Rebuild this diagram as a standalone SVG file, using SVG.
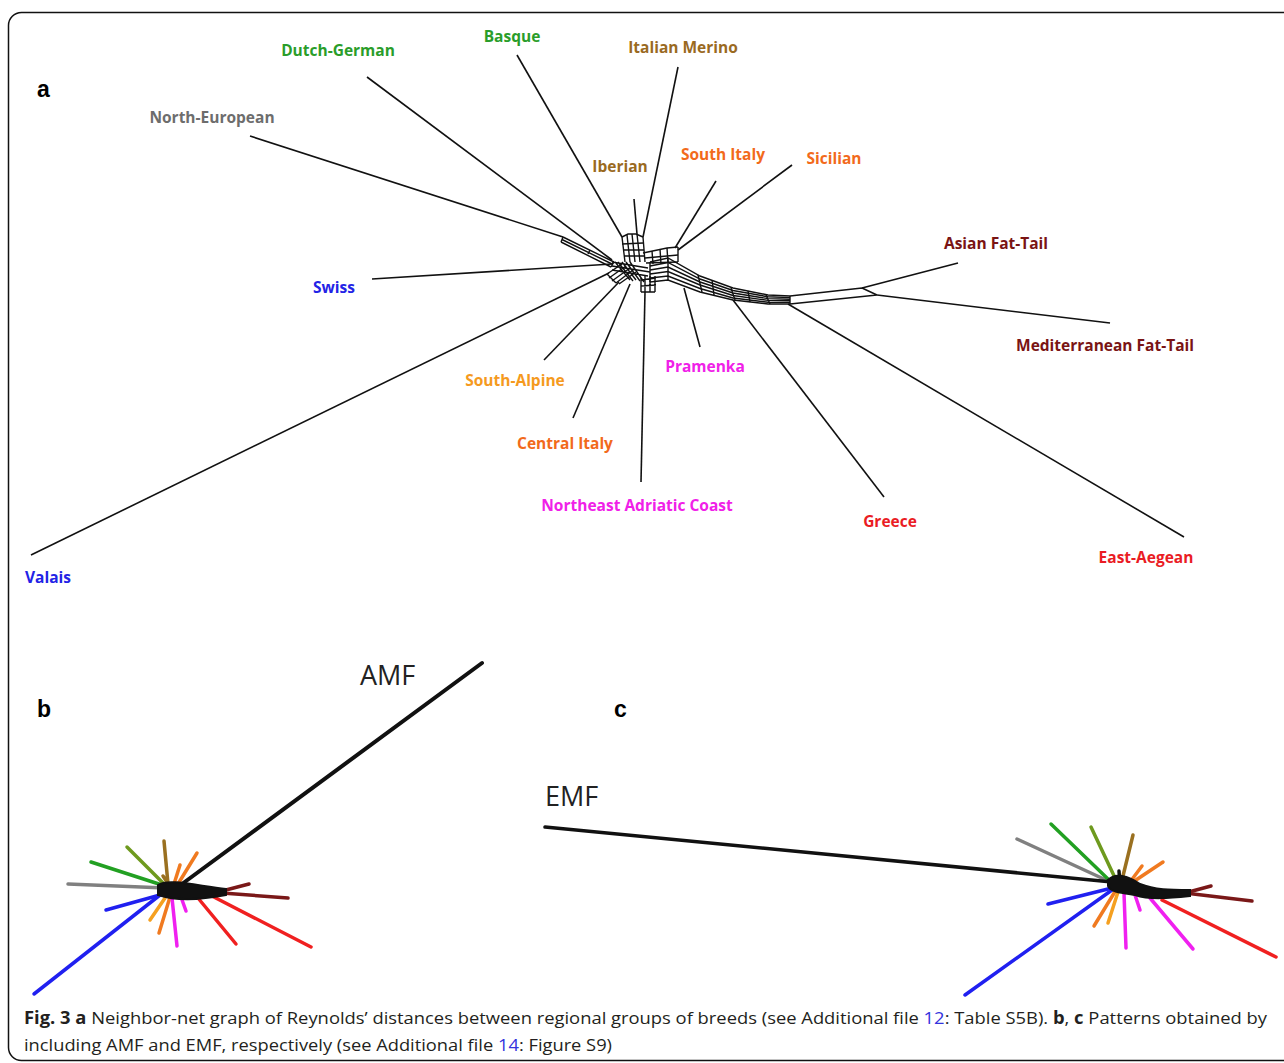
<svg xmlns="http://www.w3.org/2000/svg" width="1284" height="1063" viewBox="0 0 1284 1063">
<style>
.lbl{font-family:"Open Sans","Noto Sans",sans-serif;font-weight:700;font-size:15.5px;text-anchor:middle}
.pl{font-family:"Liberation Sans",Arial,sans-serif;font-weight:bold;font-size:23px}
.big{font-family:"Open Sans","Noto Sans",sans-serif;font-size:27px;fill:#222}
.cap{font-family:"Open Sans","Noto Sans",sans-serif;font-size:17px;fill:#231f20}
.leaf{stroke:#111;stroke-width:1.6;fill:none}
.core{stroke:#111;stroke-width:1.4;fill:none}
.t{stroke-width:3.5;fill:none;stroke-linecap:round}
.gr{fill:#2a9d2a}.gy{fill:#6d6d6d}.br{fill:#9a6a1f}.or{fill:#f26a1b}.yo{fill:#f59a1e}.dr{fill:#7a1414}.bl{fill:#2323e6}.mg{fill:#f020e8}.rd{fill:#ea1c24}
</style>
<rect x="8.5" y="12.5" width="1300" height="1048" rx="13" fill="#fff" stroke="#111" stroke-width="1.5"/>

<text class="pl" x="37" y="97">a</text>
<text class="pl" x="37" y="717">b</text>
<text class="pl" x="614" y="717">c</text>

<g id="connectors">
 <g id="leaves-a" class="leaf">
  <path d="M367,77 L612,260"/>
  <path d="M250,136 L563,237"/>
  <path d="M517,55 L622,237"/>
  <path d="M678,67 L643,237"/>
  <path d="M634,199 L637,234"/>
  <path d="M716,181 L675,248"/>
  <path d="M792,165 L678,250"/>
  <path d="M958,263 L862,288"/>
  <path d="M1110,323 L877,295"/>
  <path d="M372,279 L612,264"/>
  <path d="M31,555 L609,273"/>
  <path d="M544,360 L619,282"/>
  <path d="M573,418 L630,284"/>
  <path d="M641,482 L645,292"/>
  <path d="M700,347 L684,288"/>
  <path d="M884,497 L733,300"/>
  <path d="M1184,537 L788,304"/>
 </g>
 <g id="core-a" class="core">
  <path d="M563,237 L614,262 M562,239.5 L613,264.5 M561,242 L611,267 M563,237 L561,242 M614,262 L611,267 M590,250 L588,254"/>
  <path d="M622,237 L628,234 L636,234 L643,237"/>
  <path d="M622,237 L625,262 M627,235 L630,262 M632,234 L635,262 M637,234 L640,262 M643,237 L645,262"/>
  <path d="M622,244 L643,243 M623,250 L644,250 M624,256 L645,256"/>
  <path d="M643,253 L667,248 L678,247 M645,258 L678,255 M646,263 L678,262"/>
  <path d="M652,251 L653,264 M660,249 L661,264 M667,248 L668,263 M678,247 L678,262"/>
  <path d="M612,262 L648,268 M612,266 L650,272 M612,270 L648,276 M615,262 L630,280 M622,262 L636,280 M630,262 L644,282 M618,262 L633,281 M626,262 L640,281"/>
  <path d="M607,274 L622,264 M609,278 L626,266 M612,281 L630,268 M616,283 L633,270 M607,274 L616,283 M619,284 L636,272"/>
  <path d="M641,278 L641,292 M645,276 L645,292 M650,276 L650,292 M655,276 L655,292 M641,280 L656,278 M641,286 L656,285 M641,292 L655,292"/>
  <path d="M650,262 L668,258 L700,276 L733,288 L768,295 L790,296"/>
  <path d="M650,266 L668,262.5 L700,279 L733,290.5 L768,296.8 L790,297.6"/>
  <path d="M650,270 L668,267 L700,282 L733,293 L768,298.6 L790,299.2"/>
  <path d="M650,274 L668,271.5 L700,285 L733,295.5 L768,300.4 L790,300.8"/>
  <path d="M650,278 L668,276 L700,288.5 L733,298 L768,302.2 L790,302.4"/>
  <path d="M650,282 L668,280 L700,292 L733,300 L768,304 L790,304"/>
  <path d="M650,262 L650,282 M668,258 L668,280 M698,275 L702,292 M712,280 L714,295 M731,288 L735,300 M748,291 L750,302 M766,295 L770,304 M790,296 L790,304"/>
  <path d="M790,296 L862,288 M790,304 L877,295 M862,288 L877,295"/>
 </g>

 <g id="lines-b" class="t">
  <path d="M68,884 L165,888" stroke="#808080"/>
  <path d="M91,862 L162,885" stroke="#22a022"/>
  <path d="M127,847 L164,884" stroke="#6e9a1e"/>
  <path d="M164,841 L168,884 M163,876 L167,882" stroke="#9a7020"/>
  <path d="M180,865 L174,884" stroke="#f07a20"/>
  <path d="M197,853 L178,884" stroke="#f07a20"/>
  <path d="M249,884 L222,891" stroke="#7a1818"/>
  <path d="M288,898 L222,893" stroke="#7a1818"/>
  <path d="M106,910 L160,895" stroke="#2020f0"/>
  <path d="M34,994 L160,895" stroke="#2020f0"/>
  <path d="M150,920 L165,898" stroke="#f5a020"/>
  <path d="M159,933 L170,897" stroke="#f07a20"/>
  <path d="M177,946 L172,898" stroke="#f020f0"/>
  <path d="M186,911 L181,897" stroke="#f020f0"/>
  <path d="M236,944 L198,898" stroke="#f02020"/>
  <path d="M311,947 L210,895" stroke="#f02020"/>
  <path d="M482,663 L182,884" stroke="#111" stroke-width="4"/>
  <path d="M158,885 C168,878 198,886 226,889 L226,895 C200,900 176,901 158,895 Z" fill="#111" stroke="#111" stroke-width="2"/>
 </g>

 <g id="lines-c" class="t">
  <path d="M1017,839 L1106,880" stroke="#808080"/>
  <path d="M1051,824 L1108,879" stroke="#22a022"/>
  <path d="M1091,827 L1116,880" stroke="#6e9a1e"/>
  <path d="M1133,835 L1122,880" stroke="#9a7020"/>
  <path d="M1119,871 L1120,885" stroke="#111"/>
  <path d="M1142,866 L1130,882" stroke="#f07a20"/>
  <path d="M1163,862 L1130,884" stroke="#f07a20"/>
  <path d="M1211,886 L1185,893" stroke="#7a1818"/>
  <path d="M1252,901 L1185,893" stroke="#7a1818"/>
  <path d="M1048,904 L1112,888" stroke="#2020f0"/>
  <path d="M965,995 L1112,890" stroke="#2020f0"/>
  <path d="M1094,926 L1116,890" stroke="#f07a20"/>
  <path d="M1108,923 L1118,892" stroke="#f5a020"/>
  <path d="M1126,948 L1124,893" stroke="#f020f0"/>
  <path d="M1140,910 L1135,895" stroke="#f020f0"/>
  <path d="M1193,949 L1150,898" stroke="#f020f0"/>
  <path d="M1276,957 L1162,900" stroke="#f02020"/>
  <path d="M545,827 L1112,882" stroke="#111" stroke-width="3.5"/>
  <path d="M1108,880 C1115,872 1128,876 1140,884 C1155,890 1170,890 1190,890 L1190,896 C1170,898 1150,900 1135,895 C1122,893 1110,892 1108,886 Z" fill="#111" stroke="#111" stroke-width="2"/>
 </g>
</g>

<g id="n-dutch-german"><text class="lbl gr" x="338" y="56">Dutch-German</text></g>
<g id="n-basque"><text class="lbl gr" x="512" y="42">Basque</text></g>
<g id="n-italian-merino"><text class="lbl br" x="683" y="53">Italian Merino</text></g>
<g id="n-north-european"><text class="lbl gy" x="212" y="123">North-European</text></g>
<g id="n-iberian"><text class="lbl br" x="620" y="172">Iberian</text></g>
<g id="n-south-italy"><text class="lbl or" x="723" y="160">South Italy</text></g>
<g id="n-sicilian"><text class="lbl or" x="834" y="164">Sicilian</text></g>
<g id="n-asian-fat-tail"><text class="lbl dr" x="996" y="249">Asian Fat-Tail</text></g>
<g id="n-med-fat-tail"><text class="lbl dr" x="1105" y="351">Mediterranean Fat-Tail</text></g>
<g id="n-swiss"><text class="lbl bl" x="334" y="293">Swiss</text></g>
<g id="n-south-alpine"><text class="lbl yo" x="515" y="386">South-Alpine</text></g>
<g id="n-central-italy"><text class="lbl or" x="565" y="449">Central Italy</text></g>
<g id="n-ne-adriatic"><text class="lbl mg" x="637" y="511">Northeast Adriatic Coast</text></g>
<g id="n-pramenka"><text class="lbl mg" x="705" y="372">Pramenka</text></g>
<g id="n-greece"><text class="lbl rd" x="890" y="527">Greece</text></g>
<g id="n-east-aegean"><text class="lbl rd" x="1146" y="563">East-Aegean</text></g>
<g id="n-valais"><text class="lbl bl" x="48" y="583">Valais</text></g>

<g id="n-amf"><text class="big" x="360" y="685">AMF</text></g>
<g id="n-emf"><text class="big" x="545" y="806">EMF</text></g>

<g id="caption">
 <text class="cap" x="24" y="1024" textLength="1243" lengthAdjust="spacingAndGlyphs"><tspan font-weight="bold">Fig. 3</tspan>  <tspan font-weight="bold">a</tspan> Neighbor-net graph of Reynolds’ distances between regional groups of breeds (see Additional file <tspan fill="#3333dd">12</tspan>: Table S5B). <tspan font-weight="bold">b</tspan>, <tspan font-weight="bold">c</tspan> Patterns obtained by</text>
 <text class="cap" x="24" y="1051" textLength="588" lengthAdjust="spacingAndGlyphs">including AMF and EMF, respectively (see Additional file <tspan fill="#3333dd">14</tspan>: Figure S9)</text>
</g>
</svg>
